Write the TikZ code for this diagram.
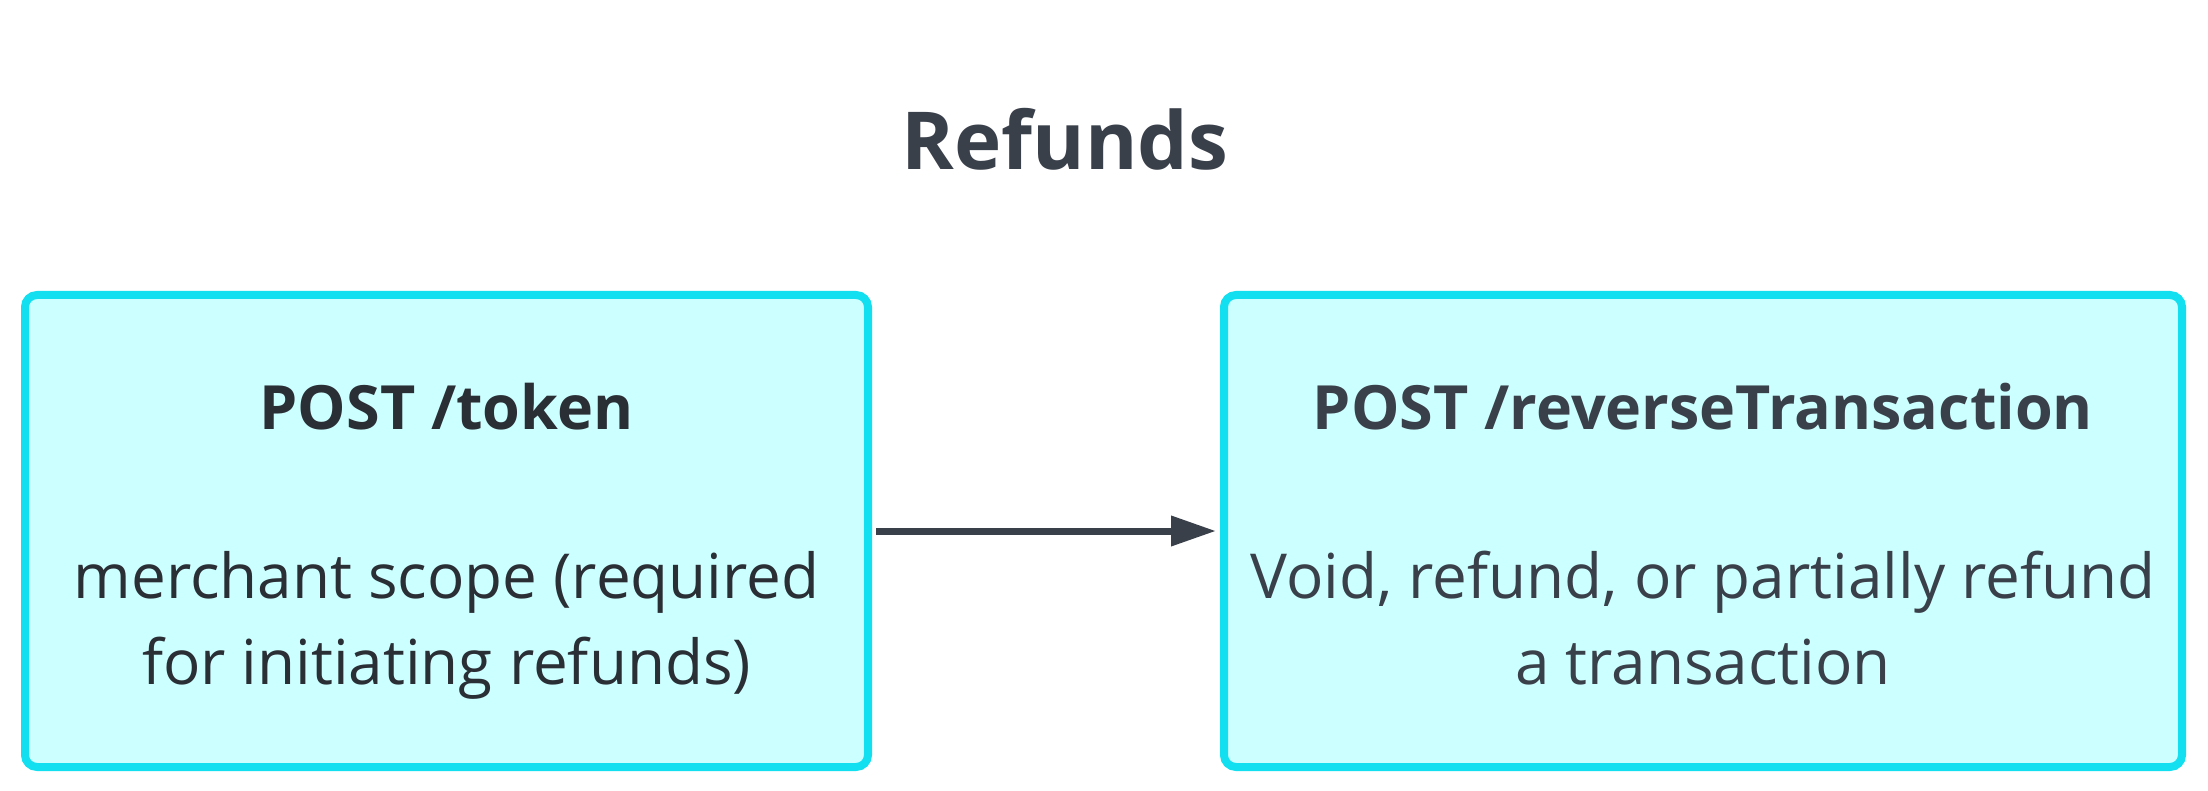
\documentclass[tikz,border=0pt]{standalone}
\usepackage{fontspec}
\setmainfont{Open Sans}
\usetikzlibrary{arrows.meta}
\definecolor{inkgray}{HTML}{3A404A}
\definecolor{inkdark}{HTML}{2A2E35}
\definecolor{boxline}{HTML}{12E0F0}
\definecolor{boxfill}{HTML}{CCFFFF}
\tikzset{
  apibox/.style={draw=boxline, fill=boxfill, line width=8pt, rounded corners=12pt,
    inner sep=0pt, minimum height=472pt, align=center,
    font=\fontsize{62}{86}\selectfont},
  flow/.style={draw=inkgray, line width=7pt, shorten <=4pt, shorten >=4pt,
    -{Triangle[length=45pt,width=29pt]}},
}
\newcommand{\headline}[1]{\rule{0pt}{71pt}{\fontsize{61}{86}\selectfont\bfseries #1}}
\newcommand{\lastline}{\rule[-20pt]{0pt}{20pt}}
\begin{document}
\begin{tikzpicture}[x=1pt,y=-1pt]
	\useasboundingbox (0,0) rectangle (2208,791);
	% Title
	\node[anchor=base, text=inkgray, font=\fontsize{80}{96}\selectfont\bfseries] (title) at (1065,170) {Refunds};
	% Endpoints
	\node[apibox, text=inkdark, minimum width=843pt] (token) at (446.5,531)
		{\headline{POST /token}\\[83pt]merchant scope (required\\for initiating refunds)\lastline};
	\node[apibox, text=inkgray, minimum width=958pt] (reverse) at (1703,531)
		{\headline{POST /reverseTransaction}\\[83pt]Void, refund, or partially refund\\a transaction\lastline};
	\draw[flow] (token) -- (reverse);
\end{tikzpicture}
\end{document}
